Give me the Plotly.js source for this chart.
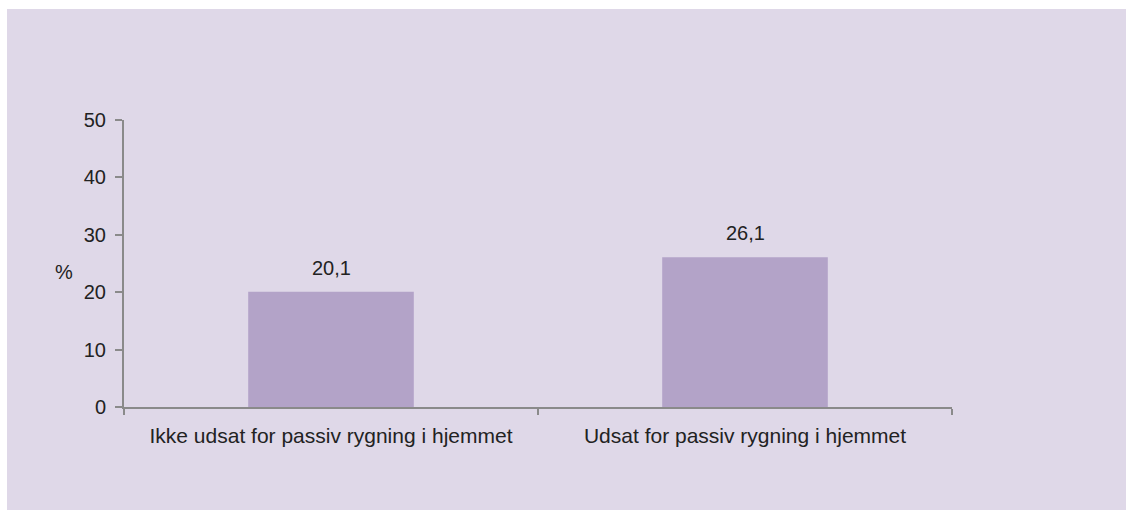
<!DOCTYPE html>
<html>
<head>
<meta charset="utf-8">
<script src="https://cdn.plot.ly/plotly-3.0.1.min.js"></script>
<style>
html, body { margin: 0; padding: 0; background: #ffffff; width: 1128px; height: 510px; overflow: hidden; }
#chart { position: absolute; left: 7px; top: 9px; width: 1119px; height: 501px; }
</style>
</head>
<body>
<div id="chart"></div>
<script>
const categories = ["Ikke udsat for passiv rygning i hjemmet", "Udsat for passiv rygning i hjemmet"];
const values = [20.1, 26.1];
const yTickValues = [0, 10, 20, 30, 40, 50];
const yAxisLabel = "%";

const textColor = "#222222";
const axisColor = "#8a8a8a";
const font = { family: "Liberation Sans, Arial, sans-serif", size: 20, color: textColor };
const xFont = { family: "Liberation Sans, Arial, sans-serif", size: 21, color: textColor };

const trace = {
  type: "bar",
  x: categories,
  y: values,
  marker: { color: "#b3a3c8", line: { width: 0 } },
  width: 0.4,
  hoverinfo: "none"
};

const annotations = values.map((v, i) => ({
  x: categories[i],
  y: v,
  xref: "x",
  yref: "y",
  text: v.toFixed(1).replace(".", ","),
  showarrow: false,
  yanchor: "bottom",
  yshift: 11,
  font: font
}));
annotations.push({
  xref: "paper",
  yref: "y",
  x: -0.0725,
  y: 23.5,
  text: yAxisLabel,
  showarrow: false,
  xanchor: "center",
  yanchor: "middle",
  font: font
});

const layout = {
  width: 1119,
  height: 501,
  paper_bgcolor: "#dfd8e8",
  plot_bgcolor: "#dfd8e8",
  margin: { l: 117, r: 174, t: 111, b: 103 },
  showlegend: false,
  font: font,
  xaxis: {
    type: "category",
    showgrid: false,
    zeroline: false,
    showline: true,
    linecolor: axisColor,
    linewidth: 2,
    ticks: "outside",
    tickson: "boundaries",
    ticklen: 6,
    tickwidth: 2,
    tickcolor: axisColor,
    tickfont: xFont,
    ticklabelstandoff: 9,
    fixedrange: true
  },
  yaxis: {
    range: [0, 50],
    tickvals: yTickValues,
    showgrid: false,
    zeroline: false,
    showline: true,
    linecolor: axisColor,
    linewidth: 2,
    ticks: "outside",
    ticklen: 7,
    tickwidth: 2,
    tickcolor: axisColor,
    tickfont: font,
    ticklabelstandoff: 5,
    fixedrange: true
  },
  annotations: annotations
};

Plotly.newPlot("chart", [trace], layout, { displayModeBar: false, staticPlot: true });
</script>
</body>
</html>
